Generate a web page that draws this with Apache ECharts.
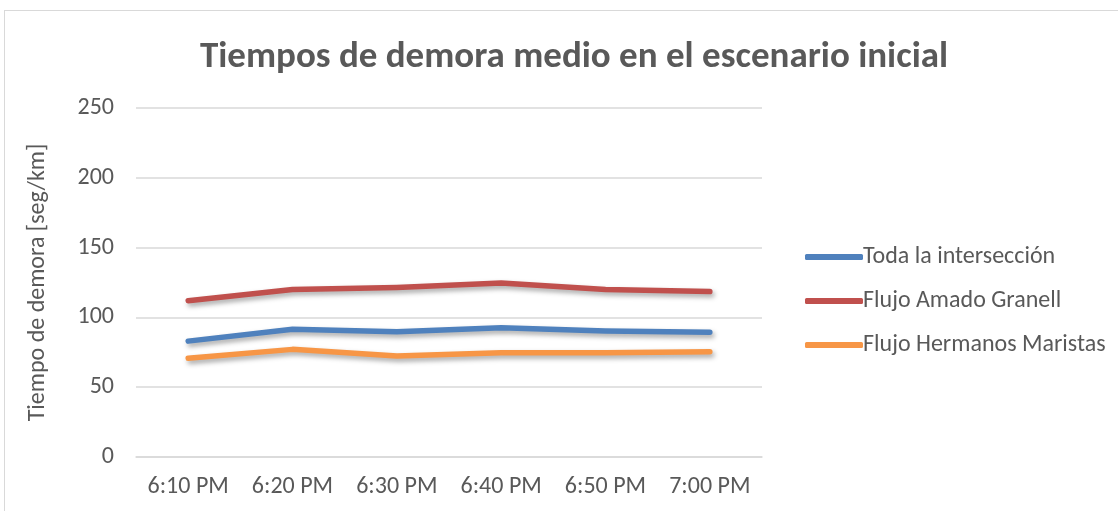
<!DOCTYPE html>
<html>
<head>
<meta charset="utf-8">
<script src="https://cdn.jsdelivr.net/npm/echarts@6/dist/echarts.min.js"></script>
<style>
  html, body { margin: 0; padding: 0; background: #fff; }
  #frame { position: absolute; left: 4px; top: 10px; width: 1120px; height: 510px; border: 1px solid #d9d9d9; box-sizing: border-box; }
  #chart { position: absolute; left: 0; top: 0; width: 1118px; height: 511px; }
</style>
</head>
<body>
<div id="frame"></div>
<div id="chart"></div>
<script>
// Time slots on the horizontal axis
const categories = ['6:10 PM', '6:20 PM', '6:30 PM', '6:40 PM', '6:50 PM', '7:00 PM'];

// Average delay per flow, seconds per km
const todaInterseccion = [83, 91.5, 89.8, 92.6, 90.3, 89.3];
const flujoAmadoGranell = [112, 120, 121.5, 124.6, 120, 118.5];
const flujoHermanosMaristas = [70.7, 77.1, 72.3, 74.7, 74.7, 75.4];

const seriesNames = ['Toda la intersección', 'Flujo Amado Granell', 'Flujo Hermanos Maristas'];
const seriesColors = ['#4F81BD', '#C0504D', '#F79646'];
const seriesValues = [todaInterseccion, flujoAmadoGranell, flujoHermanosMaristas];

const font = 'Calibri, Carlito, "Open Sans", sans-serif';
const chart = echarts.init(document.getElementById('chart'), null, { renderer: 'canvas' });

chart.setOption({
  animation: false,
  title: {
    text: 'Tiempos de demora medio en el escenario inicial',
    left: 569, top: 34, textAlign: 'center',
    textStyle: { fontFamily: font, fontSize: 37, fontWeight: 'bold', color: '#595959' }
  },
  grid: { left: 136, right: 356, top: 108, bottom: 54, containLabel: false },
  legend: {
    orient: 'vertical', left: 800, top: 240, itemGap: 20,
    itemWidth: 58, itemHeight: 6, icon: 'roundRect',
    textStyle: { fontFamily: font, fontSize: 24, color: '#595959', padding: [0, 0, 0, -5] },
    data: seriesNames
  },
  xAxis: {
    type: 'category', data: categories, boundaryGap: true,
    axisLine: { show: true, lineStyle: { color: '#d9d9d9', width: 1.5 } },
    axisTick: { show: false },
    axisLabel: { interval: 0, fontFamily: font, fontSize: 24, color: '#595959', margin: 18 }
  },
  yAxis: {
    type: 'value', min: 0, max: 250, interval: 50,
    name: 'Tiempo de demora [seg/km]', nameLocation: 'middle', nameGap: 86,
    nameTextStyle: { fontFamily: font, fontSize: 24, color: '#595959' },
    axisLine: { show: false }, axisTick: { show: false },
    axisLabel: { fontFamily: font, fontSize: 24, color: '#595959', margin: 22 },
    splitLine: { lineStyle: { color: '#d9d9d9', width: 1.5 } }
  },
  series: seriesValues.map((vals, i) => ({
    name: seriesNames[i], type: 'line', data: vals,
    symbol: 'none', smooth: false,
    lineStyle: {
      color: seriesColors[i], width: 5.5, cap: 'round', join: 'round',
      shadowColor: 'rgba(0,0,0,0.35)', shadowBlur: 5, shadowOffsetX: 2, shadowOffsetY: 3
    },
    itemStyle: { color: seriesColors[i] }
  }))
});
</script>
</body>
</html>
